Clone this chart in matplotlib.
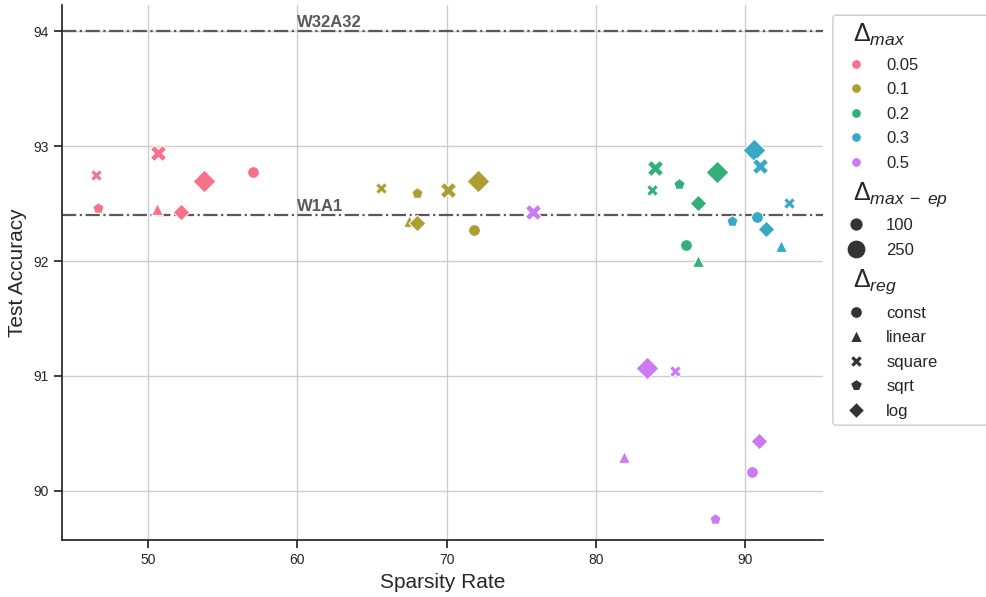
import matplotlib.pyplot as plt
import matplotlib.offsetbox as ob
from matplotlib.lines import Line2D
from matplotlib.patches import FancyBboxPatch
from matplotlib.transforms import IdentityTransform
import seaborn as sns

plt.rcParams['font.family'] = ['Liberation Sans', 'DejaVu Sans']
plt.rcParams['mathtext.fontset'] = 'custom'
plt.rcParams['mathtext.rm'] = 'Liberation Sans'
plt.rcParams['mathtext.it'] = 'Liberation Sans:italic'
plt.rcParams['mathtext.bf'] = 'Liberation Sans:bold'
plt.rcParams['text.color'] = '.15'
plt.rcParams['axes.labelcolor'] = '.15'
plt.rcParams['xtick.color'] = '.15'
plt.rcParams['ytick.color'] = '.15'

# data
sparsity = [46.5, 46.65, 50.7, 50.6, 52.2, 53.75, 57.0,
            65.6, 68.0, 70.1, 72.1, 67.5, 68.0, 71.8,
            83.95, 83.75, 85.55, 88.1, 86.85, 86.0, 86.85,
            90.6, 91.0, 92.95, 89.1, 90.8, 91.4, 92.4,
            75.8, 83.4, 85.3, 81.9, 90.9, 90.47, 88.0]
accuracy = [92.75, 92.46, 92.94, 92.45, 92.43, 92.70, 92.78,
            92.64, 92.59, 92.62, 92.70, 92.35, 92.33, 92.27,
            92.81, 92.62, 92.67, 92.78, 92.51, 92.14, 92.00,
            92.97, 92.83, 92.51, 92.35, 92.38, 92.28, 92.13,
            92.43, 91.07, 91.04, 90.29, 90.43, 90.16, 89.75]
dmax = ['0.05'] * 7 + ['0.1'] * 7 + ['0.2'] * 7 + ['0.3'] * 7 + ['0.5'] * 7
ep = [100, 100, 250, 100, 100, 250, 100,
      100, 100, 250, 250, 100, 100, 100,
      250, 100, 100, 250, 100, 100, 100,
      250, 250, 100, 100, 100, 100, 100,
      250, 250, 100, 100, 100, 100, 100]
reg = ['square', 'sqrt', 'square', 'linear', 'log', 'log', 'const',
       'square', 'sqrt', 'square', 'log', 'linear', 'log', 'const',
       'square', 'square', 'sqrt', 'log', 'log', 'const', 'linear',
       'log', 'square', 'square', 'sqrt', 'const', 'log', 'linear',
       'square', 'log', 'square', 'linear', 'log', 'const', 'sqrt']

dmax_levels = ['0.05', '0.1', '0.2', '0.3', '0.5']
ep_levels = [100, 250]
reg_levels = ['const', 'linear', 'square', 'sqrt', 'log']
ref_acc = [94.0, 92.4]
ref_names = ['W32A32', 'W1A1']

pal = dict(zip(dmax_levels, sns.color_palette('husl', 5)))
markers = {'const': 'o', 'linear': '^', 'square': 'X', 'sqrt': 'p', 'log': 'D'}
sizes = {100: 72, 250: 135}
leg_sizes = {100: 92, 250: 185}

fig = plt.figure(figsize=(9.87, 5.97), dpi=100)
ax = fig.add_axes([0.0625, 0.0955, 0.7713, 0.896])

for x, y, d, e, r in zip(sparsity, accuracy, dmax, ep, reg):
    ax.scatter(x, y, s=sizes[e], marker=markers[r], color=pal[d],
               edgecolor='w', linewidth=0.75, zorder=3)

for yv, name in zip(ref_acc, ref_names):
    ax.axhline(yv, color='0.35', ls='-.', lw=1.6, zorder=2)
    ax.text(60, yv + 0.04, name, fontsize=12, fontweight='bold',
            color='0.35', va='baseline', ha='left')

ax.set_xlim(44.22, 95.2)
ax.set_ylim(89.57, 94.23)
ax.set_xticks([50, 60, 70, 80, 90])
ax.set_yticks([90, 91, 92, 93, 94])
ax.grid(True, color='.8', lw=1)
ax.set_axisbelow(True)
ax.tick_params(labelsize=10, length=6, width=1.25, direction='out')
for s in ['top', 'right']:
    ax.spines[s].set_visible(False)
for s in ['left', 'bottom']:
    ax.spines[s].set_linewidth(1.25)
    ax.spines[s].set_color('.15')
ax.set_xlabel('Sparsity Rate', fontsize=15)
ax.set_ylabel('Test Accuracy', fontsize=15)

# legend with subtitles like seaborn
handles, labels = [], []
def subtitle(t):
    handles.append(Line2D([], [], ls='', visible=False))
    labels.append(t)

subtitle(r'$\Delta_{max}$')
for lv in dmax_levels:
    handles.append(Line2D([], [], ls='', marker='o', ms=7, mfc=pal[lv], mec='w', mew=0.75))
    labels.append(lv)
subtitle(r'$\Delta_{max\;-\;ep}$')
for e in ep_levels:
    handles.append(Line2D([], [], ls='', marker='o', ms=leg_sizes[e] ** 0.5, mfc='.2', mec='w', mew=0.75))
    labels.append(str(e))
subtitle(r'$\Delta_{reg}$')
for r in reg_levels:
    handles.append(Line2D([], [], ls='', marker=markers[r], ms=72 ** 0.5, mfc='.2', mec='w', mew=0.75))
    labels.append(r)

leg = ax.legend(handles, labels, loc='upper left', bbox_to_anchor=(1.013, 0.981),
                borderaxespad=0, fontsize=12, labelspacing=0.57, frameon=False)
for hp in leg.findobj(ob.VPacker)[0].get_children():
    da, ta = hp.get_children()
    if not all(a.get_visible() for a in da.get_children()):
        da.set_width(0)
        for t in ta.get_children():
            t.set_size(18)

# frame drawn by hand so that it runs off the right edge as in the original
fig.canvas.draw()
bb = leg.get_window_extent()
frame = FancyBboxPatch((bb.x0, bb.y0), 200, bb.height,
                       boxstyle='round,pad=0,rounding_size=3.3',
                       transform=IdentityTransform(), fc='w', ec='0.8',
                       lw=1, clip_on=False, zorder=4.9)
ax.add_artist(frame)

fig.savefig('out.png', dpi=100)
